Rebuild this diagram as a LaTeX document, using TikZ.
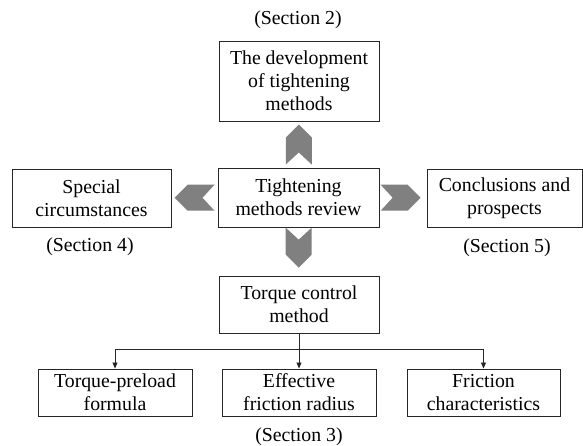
\documentclass[tikz,border=0pt]{standalone}
\usepackage[svgnames]{xcolor}
\usepackage{fontspec}
\setmainfont{Liberation Serif}
\usetikzlibrary{arrows.meta,calc}
\colorlet{chevronFill}{Gray}
\colorlet{boxLine}{black!85}

\begin{document}
\begin{tikzpicture}[
  x=1pt, y=-1pt,
  font=\fontsize{19.8}{23}\selectfont,
  box/.style={
    draw=boxLine,
    line width=0.9pt,
    align=center,
    inner sep=0pt
  },
  secLabel/.style={
    inner sep=0pt
  },
  branch/.style={
    draw=boxLine,
    line width=0.8pt,
    -{Triangle[length=6pt,width=5pt]}
  },
  chevron/.pic={
    \fill[chevronFill] (20,0) -- (7,13) -- (-20,13) -- (-8,0)
      -- (-20,-13) -- (7,-13) -- cycle;
  }
]
\useasboundingbox (0,0) rectangle (583,446);

\node[box, minimum width=160, minimum height=80] (develop) at (299,81)
  {The development\\of tightening\\methods};
\node[box, minimum width=161, minimum height=59] (review) at (298.5,197.5)
  {Tightening\\methods review};
\node[box, minimum width=159, minimum height=58] (special) at (91.5,198)
  {Special\\circumstances};
\node[box, minimum width=155, minimum height=58] (prospect) at (504.5,198)
  {Conclusions and\\prospects};
\node[box, minimum width=160, minimum height=57] (torque) at (299,304.5)
  {Torque control\\method};
\node[box, minimum width=154, minimum height=47] (formula) at (115,392.5)
  {Torque-preload\\formula};
\node[box, minimum width=154, minimum height=47] (radius) at (299,392.5)
  {Effective\\friction radius};
\node[box, minimum width=153, minimum height=47] (character) at (483.5,392.5)
  {Friction\\characteristics};

\node[secLabel] (secTwo) at (298,20) {(Section 2)};
\node[secLabel] (secFour) at (90,247) {(Section 4)};
\node[secLabel] (secFive) at (507,248) {(Section 5)};
\node[secLabel] (secThree) at (299,437) {(Section 3)};

% chevrons between the review box and its neighbours
\pic[rotate=90] at ($(review.north)!0.5!(develop.south)$) {chevron};
\pic[rotate=180] at ($(review.west)!0.5!(special.east)$) {chevron};
\pic at ($(review.east)!0.45!(prospect.west)$) {chevron};
\pic[rotate=-90] at ($(review.south)!0.42!(torque.north)$) {chevron};

% torque control tree
\draw[boxLine, line width=0.8pt] (torque.south) -- ++(0,16) coordinate (split);
\draw[branch] (split) -| (formula.north);
\draw[branch] (torque.south) -- (radius.north);
\draw[branch] (split) -| (character.north);
\end{tikzpicture}
\end{document}
